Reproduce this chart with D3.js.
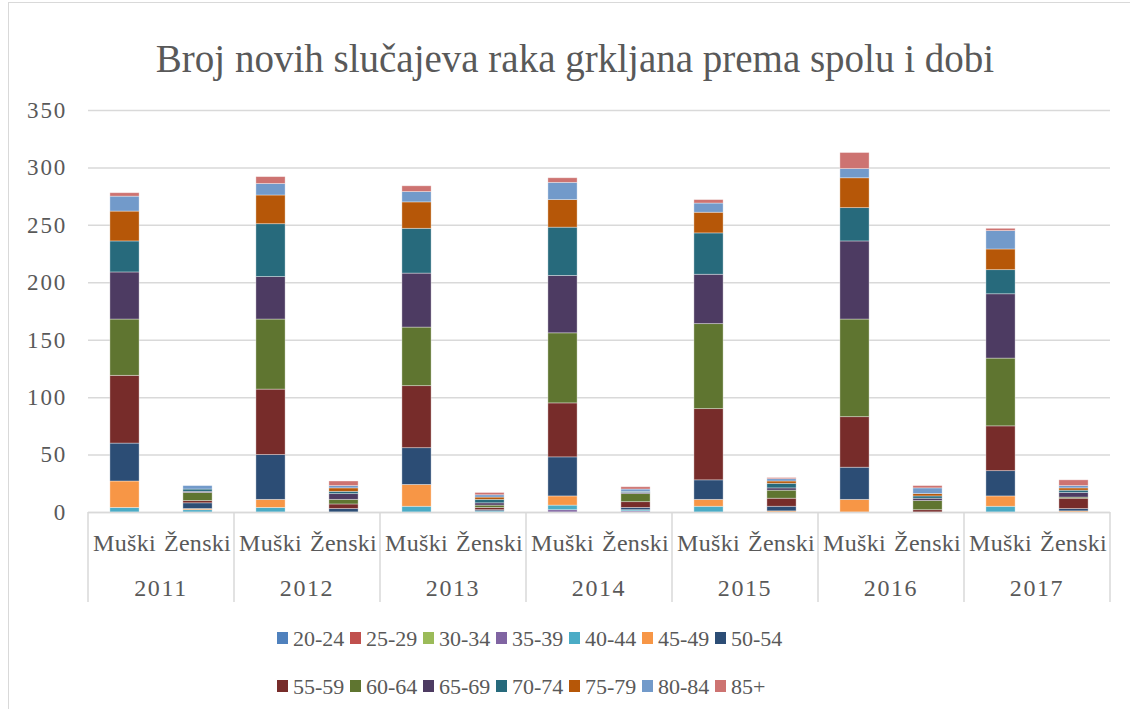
<!DOCTYPE html>
<html><head><meta charset="utf-8">
<script src="https://cdn.jsdelivr.net/npm/d3@7"></script>
<style>
html,body{margin:0;padding:0;background:#fff;}
text{font-family:"Liberation Serif","Times New Roman",serif;fill:#595959;}
</style></head>
<body><svg id="chart" width="1130" height="709"></svg>
<script>
const title = "Broj novih slučajeva raka grkljana prema spolu i dobi";
const years = ["2011","2012","2013","2014","2015","2016","2017"];
const sexes = ["Muški","Ženski"];
const ageGroups = ["20-24","25-29","30-34","35-39","40-44","45-49","50-54","55-59","60-64","65-69","70-74","75-79","80-84","85+"];
const colors = ["#4F81BD","#C0504D","#9BBB59","#8064A2","#4BACC6","#F79646","#2C4D75","#772C2A","#5F7530","#4D3B62","#276A7C","#B65708","#729ACA","#CD7371"];
const yTicks = [0,50,100,150,200,250,300,350];
// values per age group, columns: 2011 M, 2011 Ž, 2012 M, 2012 Ž, ... 2017 M, 2017 Ž
const a20_24 = [0,0,0,0,0,0,0,0,0,0,0,0,0,0];
const a25_29 = [0,0,0,0,0,0,0,0,0,0,0,0,0,0];
const a30_34 = [0,0,0,0,0,0,0,0,0,0,0,0,0,0];
const a35_39 = [0,0,0,0,0,0,2,1,0,0,0,0,0,0];
const a40_44 = [4,2,4,0,5,1,4,1,5,0,0,0,5,0];
const a45_49 = [23,1,7,0,19,0,8,0,6,1,11,0,9,1];
const a50_54 = [33,5,39,3,32,1,34,2,17,4,28,0,22,2];
const a55_59 = [59,2,57,4,54,2,47,5,62,7,44,2,39,9];
const a60_64 = [49,7,61,4,51,2,61,7,74,7,85,8,59,1];
const a65_69 = [41,1,37,5,47,2,50,1,43,2,68,2,56,4];
const a70_74 = [27,2,46,2,39,3,42,1,36,4,29,2,21,2];
const a75_79 = [26,0,25,3,23,2,24,0,18,2,26,2,18,2];
const a80_84 = [13,3,10,2,9,2,15,2,8,2,8,5,16,2];
const a85p   = [3,0,6,4,5,2,4,2,3,1,14,2,2,5];
const seriesValues = [a20_24,a25_29,a30_34,a35_39,a40_44,a45_49,a50_54,a55_59,a60_64,a65_69,a70_74,a75_79,a80_84,a85p];

const rows = [];
years.forEach((y,i)=>sexes.forEach((s,j)=>{
  const r = {year:y, sex:s};
  ageGroups.forEach((g,k)=>{ r[g] = seriesValues[k][i*2+j]; });
  rows.push(r);
}));

const svg = d3.select("#chart");
const plot = {left:88,right:1110,top:110,bottom:512};

svg.append("rect").attr("x",8.5).attr("y",2.5).attr("width",1130).attr("height",740)
  .attr("fill","#fff").attr("stroke","#d9d9d9").attr("stroke-width",1);

svg.append("text").attr("x",575).attr("y",72).attr("text-anchor","middle")
  .style("font-size","39px").text(title);

const x = d3.scaleBand().domain(years).range([plot.left,plot.right]);
const xi = d3.scaleBand().domain(sexes).range([0,x.bandwidth()]).paddingInner(0.6).paddingOuter(0.3);
const y = d3.scaleLinear().domain([0,350]).range([plot.bottom,plot.top]);

// gridlines + value axis
const yAxis = d3.axisLeft(y).tickValues(yTicks).tickSize(-(plot.right-plot.left)).tickPadding(21);
const ga = svg.append("g").attr("transform",`translate(${plot.left},0)`).call(yAxis);
ga.select(".domain").remove();
ga.selectAll(".tick line").attr("stroke","#d9d9d9").attr("stroke-width",1.5);
ga.selectAll(".tick text").style("font-size","23px").style("letter-spacing","1.8px")
  .attr("fill","#595959").style("font-family","Liberation Serif");

// stacked bars
const stacked = d3.stack().keys(ageGroups)(rows);
svg.append("g").selectAll("g").data(stacked).join("g")
  .attr("fill",(d,i)=>colors[i])
  .selectAll("rect").data(d=>d.filter(p=>p[1]-p[0]>0)).join("rect")
  .attr("x",d=>x(d.data.year)+xi(d.data.sex))
  .attr("width",xi.bandwidth())
  .attr("y",d=>y(d[1]))
  .attr("height",d=>y(d[0])-y(d[1]))
  .attr("stroke","rgba(255,255,255,0.45)").attr("stroke-width",0.8);

// category axis
const gx = svg.append("g");
gx.append("line").attr("x1",plot.left).attr("x2",plot.right).attr("y1",plot.bottom+0.5).attr("y2",plot.bottom+0.5)
  .attr("stroke","#d9d9d9").attr("stroke-width",1.5);
const bounds = years.map(v=>x(v)).concat([plot.right]);
gx.selectAll("line.sep").data(bounds).join("line").attr("class","sep")
  .attr("x1",d=>d).attr("x2",d=>d).attr("y1",plot.bottom).attr("y2",602)
  .attr("stroke","#d9d9d9").attr("stroke-width",1.5);
years.forEach(yr=>{
  sexes.forEach(s=>{
    gx.append("text").attr("x",x(yr)+xi(s)+xi.bandwidth()/2).attr("y",551)
      .attr("text-anchor","middle").style("font-size","24px").style("letter-spacing","0.3px").text(s);
  });
  gx.append("text").attr("x",x(yr)+x.bandwidth()/2).attr("y",596)
    .attr("text-anchor","middle").style("font-size","24px").style("letter-spacing","1.6px").text(yr);
});

// legend
const legend = svg.append("g");
ageGroups.forEach((g,i)=>{
  const row = Math.floor(i/7), col = i%7;
  const lx = 277 + col*73, ly = 638 + row*48;
  legend.append("rect").attr("x",lx).attr("y",ly-6).attr("width",11).attr("height",12).attr("fill",colors[i]);
  legend.append("text").attr("x",lx+16).attr("y",ly+8).style("font-size","22px").text(g);
});
</script></body></html>
